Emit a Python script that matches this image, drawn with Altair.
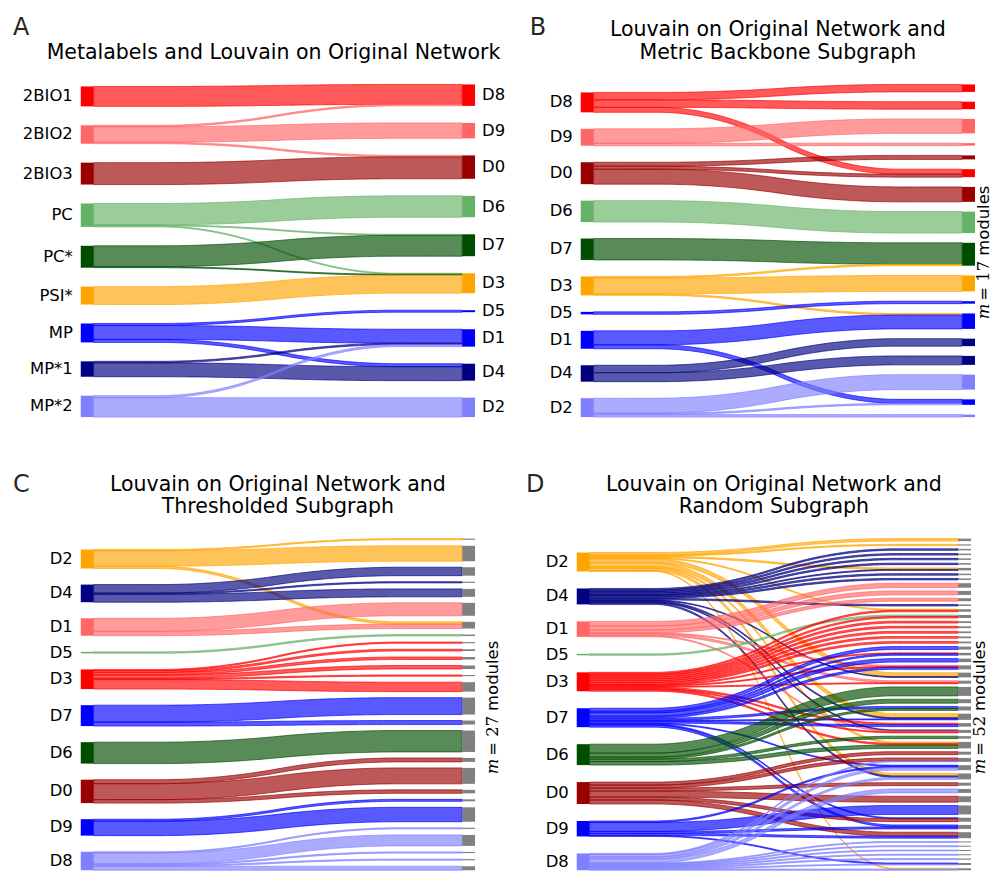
import altair as alt
import numpy as np
import pandas as pd

FONT = "DejaVu Sans"

# ---------------- colours ----------------
RED, LRED, DRED = "#ff0000", "#ff6666", "#990000"
GREEN, DGREEN, ORANGE = "#66b266", "#004d00", "#ffa500"
BLUE, NAVY, LBLUE, GRAY = "#0000ff", "#000080", "#8080ff", "#808080"

# ---------------- Panel A ----------------
A_left = ["2BIO1", "2BIO2", "2BIO3", "PC", "PC*", "PSI*", "MP", "MP*1", "MP*2"]
A_left_colors = [RED, LRED, DRED, GREEN, DGREEN, ORANGE, BLUE, NAVY, LBLUE]
A_right = ["D8", "D9", "D0", "D6", "D7", "D3", "D5", "D1", "D4", "D2"]
A_right_colors = [RED, LRED, DRED, GREEN, DGREEN, ORANGE, BLUE, BLUE, NAVY, LBLUE]
A_src = ["2BIO1", "2BIO2", "2BIO2", "2BIO2", "2BIO3", "PC", "PC", "PC", "PC*", "PC*",
         "PSI*", "MP", "MP", "MP", "MP*1", "MP*1", "MP*2", "MP*2"]
A_dst = ["D8", "D8", "D9", "D0", "D0", "D6", "D7", "D3", "D7", "D3",
         "D3", "D5", "D1", "D4", "D1", "D4", "D1", "D2"]
A_val = [20, 1.5, 15.5, 1.5, 22, 21.5, 1, 1, 21, 1, 18, 2, 14, 3, 1.5, 14, 2, 19.5]

# ---------------- Panel B ----------------
B_left = ["D8", "D9", "D0", "D6", "D7", "D3", "D5", "D1", "D4", "D2"]
B_left_colors = [RED, LRED, DRED, GREEN, DGREEN, ORANGE, BLUE, BLUE, NAVY, LBLUE]
B_right = list(range(1, 18))
B_right_colors = [RED, RED, LRED, LRED, DRED, RED, DRED, GREEN, DGREEN, ORANGE,
                  BLUE, BLUE, NAVY, NAVY, LBLUE, BLUE, LBLUE]
B_src = ["D8", "D8", "D8", "D9", "D9", "D0", "D0", "D0", "D6", "D7", "D3", "D3", "D3",
         "D5", "D1", "D1", "D4", "D4", "D2", "D2", "D2"]
B_dst = [1, 2, 6, 3, 4, 5, 6, 7, 8, 9, 9, 10, 12, 11, 12, 16, 13, 14, 15, 16, 17]
B_val = [7.5, 7.5, 5, 14.5, 2.5, 4, 3, 15, 21.5, 21.5, 1.5, 16, 1.5, 2.5, 14, 4,
         7.5, 9, 15, 1.5, 2.5]

# ---------------- Panel C ----------------
C_left = ["D2", "D4", "D1", "D5", "D3", "D7", "D6", "D0", "D9", "D8"]
C_left_colors = [ORANGE, NAVY, LRED, GREEN, RED, BLUE, DGREEN, DRED, BLUE, LBLUE]
C_right = list(range(1, 28))
C_src = ["D2", "D2", "D2", "D4", "D4", "D4", "D1", "D1", "D5",
         "D3", "D3", "D3", "D3", "D3", "D3", "D7", "D7", "D6",
         "D0", "D0", "D0", "D9", "D9", "D8", "D8", "D8", "D8", "D8"]
C_dst = [1, 2, 7, 3, 4, 5, 6, 7, 8, 9, 10, 11, 12, 13, 14, 15, 16, 17,
         18, 19, 20, 21, 22, 23, 24, 25, 26, 27]
C_val = [1.2, 15.5, 2.3, 8.5, 1.2, 8, 13, 4.5, 1.5, 1.2, 1.8, 2.5, 3.5, 1.2, 9.5,
         17, 4, 21.5, 4, 16, 3.5, 2, 14.5, 1.2, 11, 1.2, 1.2, 4]

# ---------------- Panel D ----------------
D_left = C_left
D_left_colors = C_left_colors
D_right = list(range(1, 53))
D_src = [
    "D2", "D2", "D4", "D4", "D4", "D4", "D2", "D4", "D4", "D4",
    "D1", "D1", "D1", "D4", "D2", "D3", "D5", "D3",
    "D3", "D3", "D3", "D3", "D3", "D7", "D3", "D7", "D7",
    "D1", "D3", "D7", "D2", "D4", "D1", "D3", "D6", "D6", "D7", "D6",
    "D2", "D4", "D7", "D3", "D7", "D4", "D1", "D3", "D6", "D2", "D3", "D6",
    "D0", "D0", "D8", "D7", "D9", "D8", "D2", "D4", "D8", "D0", "D8", "D0", "D9",
    "D7", "D0", "D7", "D9", "D0", "D9", "D8", "D8", "D8", "D8", "D8",
    "D9", "D8", "D2", "D8"]
D_dst = [
    1, 2, 3, 4, 5, 6, 7, 7, 8, 9,
    10, 11, 12, 13, 14, 14, 15, 15,
    16, 17, 18, 19, 20, 21, 22, 22, 23,
    24, 24, 24, 25, 25, 26, 26, 27, 28, 29, 29,
    30, 30, 30, 31, 31, 32, 32, 32, 33, 34, 34, 34,
    35, 36, 36, 37, 37, 37, 38, 38, 38, 39, 40, 41, 42,
    43, 43, 44, 44, 45, 45, 46, 47, 48, 49, 50,
    51, 51, 52, 52]
D_val = [
    2.5, 1.2, 1.5, 1.5, 1.5, 1.5, 1.5, 1.0, 1.5, 1.5,
    4.5, 4, 3, 1.5, 1, 1.5, 1.5, 1.5,
    1.8, 1.8, 1.8, 1.8, 1.8, 3, 1, 1.5, 3.5,
    1, 1, 2, 4, 0.8, 2, 1, 9, 4, 2, 2,
    4, 1.2, 1, 1.5, 2, 1, 1, 1, 2.5, 1.5, 1.5, 3.5,
    3, 3, 1, 1, 1.5, 2.5, 2.5, 1.5, 2, 3, 4, 6, 9,
    1, 3, 2, 2, 4, 2, 1, 1, 1, 1, 1.2,
    1, 1, 0.8, 1.2]
assert len(D_src) == len(D_dst) == len(D_val)

# ---------------- layout helpers ----------------
PX_PER_UNIT = 370.0   # horizontal pixels between the two node columns
Y_DOMAIN = [0, 432]
NODE_W = 0.035
PH = 432
TITLE_SIZE = 20.6


def link_curve(a, b):
    ys = np.array(50 * [a] + 50 * [b], dtype=float)
    k = np.full(20, 0.05)
    ys = np.convolve(ys, k, mode="valid")
    ys = np.convolve(ys, k, mode="valid")
    return ys


def panel(left, lcolors, right, rcolors, src, dst, val, topL, topR, bottom,
          letter, letter_xy, titles, width, x0, title_x=0.5, right_labels=False,
          module=None):
    xdom = [-x0 / PX_PER_UNIT, (width - x0) / PX_PER_UNIT]

    def X(f):
        return alt.X(f, type="quantitative", axis=None,
                     scale=alt.Scale(domain=xdom, nice=False, zero=False))

    def Y(f):
        return alt.Y(f, type="quantitative", axis=None,
                     scale=alt.Scale(domain=Y_DOMAIN, nice=False, zero=False, reverse=True))

    T = float(sum(val))
    lsize = {n: 0.0 for n in left}
    rsize = {n: 0.0 for n in right}
    for s, d, v in zip(src, dst, val):
        lsize[s] += v
        rsize[d] += v
    gapL = (bottom - topL - T) / (len(left) - 1)
    gapR = (bottom - topR - T) / (len(right) - 1)
    ltop, rtop = {}, {}
    y = topL
    for n in left:
        ltop[n] = y
        y += lsize[n] + gapL
    y = topR
    for n in right:
        rtop[n] = y
        y += rsize[n] + gapR
    li = {n: i for i, n in enumerate(left)}
    ri = {n: i for i, n in enumerate(right)}
    idx = list(range(len(src)))
    lorder = sorted(idx, key=lambda i: (li[src[i]], ri[dst[i]]))
    rorder = sorted(idx, key=lambda i: (ri[dst[i]], li[src[i]]))
    lpos, rpos = {}, {}
    cur = dict(ltop)
    for i in lorder:
        lpos[i] = cur[src[i]]
        cur[src[i]] += val[i]
    cur = dict(rtop)
    for i in rorder:
        rpos[i] = cur[dst[i]]
        cur[dst[i]] += val[i]
    lcol = dict(zip(left, lcolors))
    xs = np.linspace(0, 1, 62)
    rows = []
    for k, i in enumerate(lorder):
        top = link_curve(lpos[i], rpos[i])
        bot = link_curve(lpos[i] + val[i], rpos[i] + val[i])
        for j in range(len(xs)):
            rows.append(dict(fid=f"f{k:03d}", x=xs[j], y0=top[j], y1=bot[j],
                             color=lcol[src[i]]))
    flows = pd.DataFrame(rows)

    nrows = []
    for n, c in zip(left, lcolors):
        nrows.append(dict(x=-NODE_W, x2=0.0, y=ltop[n], y2=ltop[n] + lsize[n], color=c,
                          label=str(n), side="L"))
    for n, c in zip(right, rcolors):
        nrows.append(dict(x=1.0, x2=1.0 + NODE_W, y=rtop[n], y2=rtop[n] + rsize[n], color=c,
                          label=str(n), side="R"))
    nodes = pd.DataFrame(nrows)
    nodes["yc"] = (nodes["y"] + nodes["y2"]) / 2

    area = alt.Chart(flows).mark_area(
        fillOpacity=0.65, strokeOpacity=0.65, strokeWidth=1, interpolate="linear",
        orient="vertical"
    ).encode(
        x=X("x"), y=Y("y0"), y2="y1",
        color=alt.Color("color:N", scale=None),
        stroke=alt.Stroke("color:N", scale=None),
        detail="fid:N",
    )
    rects = alt.Chart(nodes).mark_rect(strokeWidth=0).encode(
        x=X("x"), x2="x2", y=Y("y"), y2="y2",
        color=alt.Color("color:N", scale=None),
    )
    lab_l = alt.Chart(nodes[nodes.side == "L"]).mark_text(
        align="right", baseline="middle", dx=-8, fontSize=16.5, font=FONT, color="black"
    ).encode(x=X("x"), y=Y("yc"), text="label:N")
    layers = [area, rects, lab_l]
    if right_labels:
        lab_r = alt.Chart(nodes[nodes.side == "R"]).mark_text(
            align="left", baseline="middle", dx=7, fontSize=16.5, font=FONT, color="black"
        ).encode(x=X("x2"), y=Y("yc"), text="label:N")
        layers.append(lab_r)

    tdf = pd.DataFrame({"x": [title_x] * len(titles), "y": [t[1] for t in titles],
                        "t": [t[0] for t in titles]})
    layers.append(alt.Chart(tdf).mark_text(
        align="center", baseline="alphabetic", fontSize=TITLE_SIZE, font=FONT, color="black"
    ).encode(x=X("x"), y=Y("y"), text="t:N"))
    ldf = pd.DataFrame({"x": [letter_xy[0]], "y": [letter_xy[1]], "t": [letter]})
    layers.append(alt.Chart(ldf).mark_text(
        align="left", baseline="alphabetic", fontSize=24, font=FONT, color="#262626"
    ).encode(x=X("x"), y=Y("y"), text="t:N"))

    if module is not None:
        mx, my, num = module
        mdf = pd.DataFrame({"x": [mx], "y": [my]})
        base = alt.Chart(mdf)
        layers.append(base.mark_text(
            align="left", baseline="alphabetic", angle=270, dx=2, fontSize=16.5,
            font=FONT, color="black", text="modules"
        ).encode(x=X("x"), y=Y("y")))
        layers.append(base.mark_text(
            align="right", baseline="alphabetic", angle=270, dx=-3, fontSize=16.5,
            font="DejaVu Serif", color="black", text="= " + num
        ).encode(x=X("x"), y=Y("y")))
        layers.append(base.mark_text(
            align="right", baseline="alphabetic", angle=270, dx=-46, fontSize=16.5,
            font="DejaVu Serif", fontStyle="italic", color="black", text="m"
        ).encode(x=X("x"), y=Y("y")))

    return alt.layer(*layers).properties(width=width, height=PH)


WL, XL = 496, 86   # left column panels: width, local x of flow start
WR, XR = 488, 88   # right column panels

pA = panel(A_left, A_left_colors, A_right, A_right_colors, A_src, A_dst, A_val,
           77, 75, 409, "A", (-0.219, 25),
           [("Metalabels and Louvain on Original Network", 49)], WL, XL,
           title_x=0.488, right_labels=True)
pB = panel(B_left, B_left_colors, B_right, B_right_colors, B_src, B_dst, B_val,
           83, 75, 409, "B", (-0.173, 25),
           [("Louvain on Original Network and", 26), ("Metric Backbone Subgraph", 49)],
           WR, XR, module=(1.0716, 249, "17"))
pC = panel(C_left, C_left_colors, C_right, [GRAY] * len(C_right), C_src, C_dst, C_val,
           110, 99, 432, "C", (-0.219, 52),
           [("Louvain on Original Network and", 51), ("Thresholded Subgraph", 73)],
           WL, XL, module=(1.098, 274, "27"))
pD = panel(D_left, D_left_colors, D_right, [GRAY] * len(D_right), D_src, D_dst, D_val,
           113, 99, 432, "D", (-0.173, 52),
           [("Louvain on Original Network and", 51), ("Random Subgraph", 73)],
           WR, XR, module=(1.0716, 274, "52"))

chart = alt.vconcat(
    alt.hconcat(pA, pB, spacing=0),
    alt.hconcat(pC, pD, spacing=0),
    spacing=0,
).properties(padding=0, background="white").configure(font=FONT).configure_view(
    stroke="transparent", strokeWidth=0
)

chart.save("out.html", embed_options={"renderer": "svg", "actions": False})
